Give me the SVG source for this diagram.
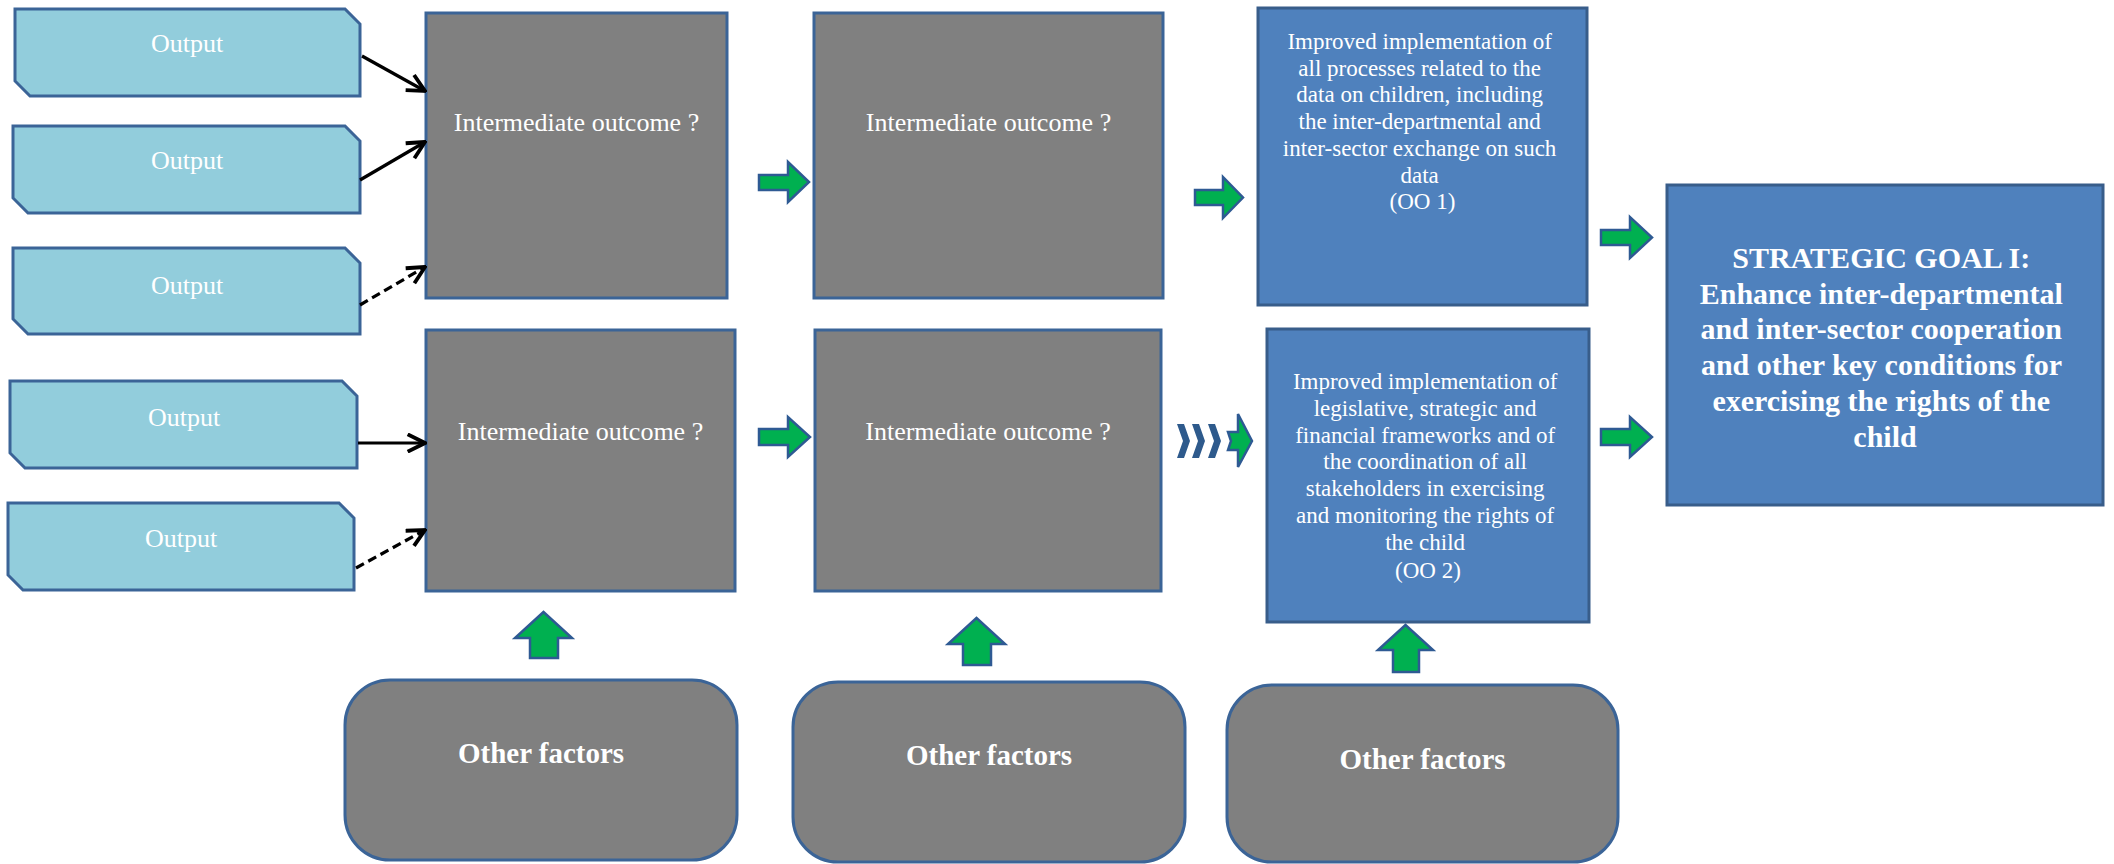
<svg xmlns="http://www.w3.org/2000/svg" width="2114" height="864" viewBox="0 0 2114 864">
<defs>
<style>
.out{fill:#92CDDC;stroke:#3B6497;stroke-width:3}
.gray{fill:#808080;stroke:#3B6497;stroke-width:3}
.blue{fill:#4F81BD;stroke:#385D8A;stroke-width:3}
.garr{fill:#00B050;stroke:#2E5A93;stroke-width:2.5}
.chev{fill:#2E5A8C}
.t{font-family:"Liberation Serif","Times New Roman",serif;fill:#ffffff;text-anchor:middle}
.to{font-size:26px}
.ti{font-size:26px}
.tb{font-size:23px}
.ts{font-size:30px;font-weight:bold}
.tf{font-size:29px;font-weight:bold}
.ln{stroke:#000;stroke-width:3.2;fill:none}
.dash{stroke-dasharray:9 5}
</style>
<marker id="ah" viewBox="0 0 12 12" refX="11" refY="6" markerWidth="6.5" markerHeight="6.5" orient="auto" markerUnits="strokeWidth">
<path d="M1,1 L11,6 L1,11" fill="none" stroke="#000" stroke-width="2.2"/>
</marker>
</defs>
<rect width="2114" height="864" fill="#ffffff"/>

<g id="output1"><path class="out" d="M15,9 H345 L360,24 V96 H30 L15,81 Z"/><text class="t to" x="187" y="52">Output</text></g>
<g id="output2"><path class="out" d="M13,126 H345 L360,141 V213 H28 L13,198 Z"/><text class="t to" x="187" y="169">Output</text></g>
<g id="output3"><path class="out" d="M13,248 H345 L360,263 V334 H28 L13,319 Z"/><text class="t to" x="187" y="294">Output</text></g>
<g id="output4"><path class="out" d="M10,381 H342 L357,396 V468 H25 L10,453 Z"/><text class="t to" x="184" y="426">Output</text></g>
<g id="output5"><path class="out" d="M8,503 H339 L354,518 V590 H23 L8,575 Z"/><text class="t to" x="181" y="547">Output</text></g>

<g id="int1"><rect class="gray" x="426" y="13" width="301" height="285"/><text class="t ti" x="576.5" y="131">Intermediate outcome ?</text></g>
<g id="int2"><rect class="gray" x="814" y="13" width="349" height="285"/><text class="t ti" x="988.5" y="131">Intermediate outcome ?</text></g>
<g id="int3"><rect class="gray" x="426" y="330" width="309" height="261"/><text class="t ti" x="580.5" y="440">Intermediate outcome ?</text></g>
<g id="int4"><rect class="gray" x="815" y="330" width="346" height="261"/><text class="t ti" x="988" y="440">Intermediate outcome ?</text></g>

<g id="oo1"><rect class="blue" x="1258" y="8" width="329" height="297"/>
<text class="t tb">
<tspan x="1422.5" y="49">Improved implementation of</tspan>
<tspan x="1422.5" y="75.7">all processes related to the</tspan>
<tspan x="1422.5" y="102.4">data on children, including</tspan>
<tspan x="1422.5" y="129.1">the inter-departmental and</tspan>
<tspan x="1422.5" y="155.8">inter-sector exchange on such</tspan>
<tspan x="1422.5" y="182.5">data</tspan>
<tspan x="1422.5" y="209.2">(OO 1)</tspan>
</text></g>

<g id="oo2"><rect class="blue" x="1267" y="329" width="322" height="293"/>
<text class="t tb">
<tspan x="1428" y="389">Improved implementation of</tspan>
<tspan x="1428" y="415.8">legislative, strategic and</tspan>
<tspan x="1428" y="442.6">financial frameworks and of</tspan>
<tspan x="1428" y="469.4">the coordination of all</tspan>
<tspan x="1428" y="496.2">stakeholders in exercising</tspan>
<tspan x="1428" y="523">and monitoring the rights of</tspan>
<tspan x="1428" y="549.8">the child</tspan>
<tspan x="1428" y="577.6">(OO 2)</tspan>
</text></g>

<g id="goal"><rect class="blue" x="1667" y="185" width="436" height="320"/>
<text class="t ts">
<tspan x="1885" y="268">STRATEGIC GOAL I:</tspan>
<tspan x="1885" y="303.7">Enhance inter-departmental</tspan>
<tspan x="1885" y="339.4">and inter-sector cooperation</tspan>
<tspan x="1885" y="375.1">and other key conditions for</tspan>
<tspan x="1885" y="410.8">exercising the rights of the</tspan>
<tspan x="1885" y="446.5">child</tspan>
</text></g>

<g id="factors1"><rect class="gray" x="345" y="680" width="392" height="180" rx="45"/><text class="t tf" x="541" y="763">Other factors</text></g>
<g id="factors2"><rect class="gray" x="793" y="682" width="392" height="180" rx="45"/><text class="t tf" x="989" y="765">Other factors</text></g>
<g id="factors3"><rect class="gray" x="1227" y="685" width="391" height="177" rx="45"/><text class="t tf" x="1422.5" y="769">Other factors</text></g>

<g id="connectors">
<line class="ln" x1="362" y1="56" x2="425" y2="91" marker-end="url(#ah)"/>
<line class="ln" x1="360" y1="180" x2="425" y2="142" marker-end="url(#ah)"/>
<line class="ln dash" x1="360" y1="305" x2="425" y2="267" marker-end="url(#ah)"/>
<line class="ln" x1="358" y1="443" x2="425" y2="443" marker-end="url(#ah)"/>
<line class="ln dash" x1="356" y1="568" x2="425" y2="530" marker-end="url(#ah)"/>

<path class="garr" d="M759,175 H788 V162 L809,182 L788,202 V190 H759 Z"/>
<path class="garr" d="M1195,190 H1223 V177 L1243,197.5 L1223,218 V205 H1195 Z"/>
<path class="garr" d="M1601,230 H1630 V217 L1652,237.5 L1630,258 V245 H1601 Z"/>
<path class="garr" d="M1601,429 H1630 V417 L1652,437 L1630,457 V445 H1601 Z"/>
<path class="garr" d="M759,429 H788 V417 L810,437 L788,457 V445 H759 Z"/>

<path class="chev" d="M1177,424 H1184 L1190,441 L1184,458 H1177 L1183,441 Z"/>
<path class="chev" d="M1192,424 H1199 L1205,441 L1199,458 H1192 L1198,441 Z"/>
<path class="chev" d="M1208,424 H1215 L1221,441 L1215,458 H1208 L1214,441 Z"/>
<path class="garr" d="M1228,432 H1238 V414 L1252,441 L1238,467 V450 H1228 L1231,441 Z"/>

<path class="garr" d="M530,658 V638 H515 L543.5,612 L572,638 H558 V658 Z"/>
<path class="garr" d="M963,665 V644 H948 L976.5,618 L1005,644 H991 V665 Z"/>
<path class="garr" d="M1393,672 V650 H1378 L1405.5,625 L1433,650 H1419 V672 Z"/>
</g>
</svg>
